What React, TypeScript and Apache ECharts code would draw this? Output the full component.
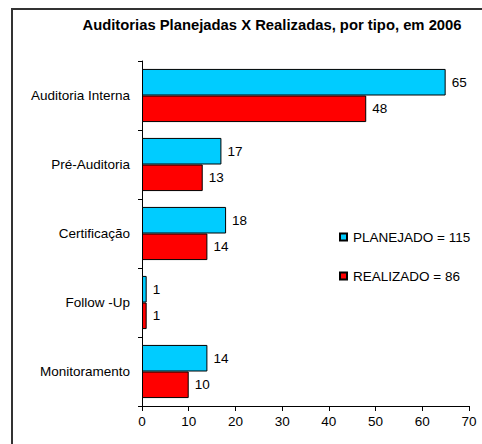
import React, { useEffect, useRef } from "react";
import * as echarts from "echarts";

const categories = ["Auditoria Interna", "Pré-Auditoria", "Certificação", "Follow -Up", "Monitoramento"];
const planejado = [65, 17, 18, 1, 14];
const realizado = [48, 13, 14, 1, 10];
const seriesNames = ["PLANEJADO = 115", "REALIZADO = 86"];
const titleText = "Auditorias Planejadas X Realizadas, por tipo, em 2006";

const FONT = "'Liberation Sans', Arial, sans-serif";

export default function App() {
  const ref = useRef<HTMLDivElement>(null);
  useEffect(() => {
    if (!ref.current) return;
    const chart = echarts.init(ref.current, null, { renderer: "svg" });
    const label = {
      show: true,
      position: "right",
      distance: 6,
      color: "#000",
      fontSize: 13.5,
      fontFamily: FONT,
    };
    chart.setOption({
      animation: false,
      backgroundColor: "#fff",
      textStyle: { fontFamily: FONT },
      title: {
        text: titleText,
        left: 267,
        textAlign: "center",
        top: 12,
        textStyle: { fontSize: 14.8, fontWeight: "bold", color: "#000", fontFamily: FONT },
      },
      graphic: [
        {
          type: "rect",
          shape: { x: 12, y: 9, width: 600, height: 600 },
          style: { fill: "none", stroke: "#333", lineWidth: 2 },
          silent: true,
        },
      ],
      legend: {
        orient: "vertical",
        left: 339,
        top: 230,
        padding: 0,
        itemWidth: 7,
        itemHeight: 7,
        itemGap: 25,
        icon: "rect",
        textStyle: { fontSize: 13.5, color: "#000", fontFamily: FONT, padding: [0, 0, 0, 1] },
        data: seriesNames,
      },
      grid: { left: 142, top: 61, right: 13, bottom: 38, containLabel: false },
      xAxis: {
        type: "value",
        min: 0,
        max: 70,
        interval: 10,
        axisLine: { show: true, lineStyle: { color: "#000", width: 1 } },
        axisTick: { show: true, length: 5, lineStyle: { color: "#000" } },
        axisLabel: { color: "#000", fontSize: 13.5, margin: 8, fontFamily: FONT },
        splitLine: { show: false },
      },
      yAxis: {
        type: "category",
        inverse: true,
        data: categories,
        axisLine: { show: true, lineStyle: { color: "#000", width: 1 } },
        axisTick: { show: true, length: 4, lineStyle: { color: "#000" } },
        axisLabel: { color: "#000", fontSize: 13.5, margin: 12, fontFamily: FONT },
      },
      series: [
        {
          name: seriesNames[0],
          type: "bar",
          data: planejado,
          barGap: "0%",
          barCategoryGap: "23%",
          itemStyle: { color: "#00CCFF", borderColor: "#000", borderWidth: 1 },
          label,
        },
        {
          name: seriesNames[1],
          type: "bar",
          data: realizado,
          barGap: "0%",
          barCategoryGap: "23%",
          itemStyle: { color: "#FF0000", borderColor: "#000", borderWidth: 1 },
          label,
        },
      ],
    });
    return () => chart.dispose();
  }, []);
  return (
    <div
      ref={ref}
      style={{ position: "fixed", left: 0, top: 0, width: 482, height: 444 }}
    />
  );
}
